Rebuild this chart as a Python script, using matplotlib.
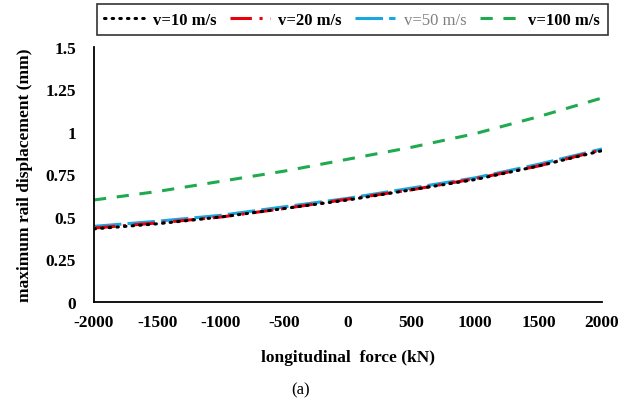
import matplotlib
matplotlib.use("Agg")
import matplotlib.pyplot as plt

plt.rcParams['font.family'] = ['Liberation Serif', 'DejaVu Serif']

force = [-2000, -1500, -1000, -500, 0, 500, 1000, 1500, 2000]
v10 = [0.43, 0.46, 0.50, 0.55, 0.60, 0.66, 0.72, 0.80, 0.89]
v20 = [0.435, 0.465, 0.50, 0.55, 0.605, 0.66, 0.725, 0.80, 0.895]
v50 = [0.445, 0.475, 0.51, 0.56, 0.61, 0.67, 0.73, 0.81, 0.90]
v100 = [0.60, 0.65, 0.71, 0.77, 0.84, 0.91, 0.99, 1.09, 1.20]
labels = ['v=10 m/s', 'v=20 m/s', 'v=50 m/s', 'v=100 m/s']
xticks = [-2000, -1500, -1000, -500, 0, 500, 1000, 1500, 2000]
yticks = [0, 0.25, 0.5, 0.75, 1, 1.25, 1.5]
ytick_labels = ['0', '0.25', '0.5', '0.75', '1', '1.25', '1.5']

fig = plt.figure(figsize=(6.2, 4.1), dpi=100)
ax = fig.add_axes([0.1516, 0.261, 0.8194, 0.622])

lw = 2.2
h10, = ax.plot(force, v10, color='black', lw=lw, linestyle=(0, (0.5, 2.0)), dash_capstyle='round', zorder=4)
h20, = ax.plot(force, v20, color='#e8000b', lw=lw, linestyle=(0, (7, 2.5, 1, 2.5)), zorder=3)
h50, = ax.plot(force, v50, color='#1aa7e0', lw=lw, linestyle=(0, (9, 2)), zorder=2)
h100, = ax.plot(force, v100, color='#1faa4f', lw=lw, linestyle=(0, (4, 3.5)), zorder=2)

ax.set_xlim(-2000, 2000)
ax.set_ylim(0, 1.5)
ax.set_xticks(xticks)
ax.set_xticklabels([str(t) for t in xticks], fontsize=12.5, fontweight='bold')
ax.set_yticks(yticks)
ax.set_yticklabels(ytick_labels, fontsize=12.5, fontweight='bold')
ax.tick_params(axis='x', length=0, pad=9)
ax.tick_params(axis='y', length=0, pad=13)
for s in ['top', 'right']:
    ax.spines[s].set_visible(False)
for s in ['left', 'bottom']:
    ax.spines[s].set_linewidth(1.3)
    ax.spines[s].set_color('black')

ax.set_xlabel('longitudinal  force (kN)', fontsize=12.5, fontweight='bold', labelpad=13)
ax.set_ylabel('maximum rail displacement (mm)', fontsize=12.5, fontweight='bold', labelpad=9)

fig.text(0.484, 0.048, '(a)', fontsize=12, ha='center', va='center')

leg = fig.legend([h10, h20, h50, h100], labels, loc='upper left',
                 bbox_to_anchor=(0.156, 0.903, 0.824, 0.084), mode='expand',
                 ncol=4, frameon=True, fancybox=False, handlelength=2.4,
                 handletextpad=0.5, columnspacing=0.6, borderaxespad=0,
                 borderpad=0.45,
                 prop={'weight': 'bold', 'size': 12})
leg.get_frame().set_edgecolor('black')
leg.get_frame().set_linewidth(1.2)
leg.get_texts()[2].set_color('#808080')
leg.get_texts()[2].set_fontweight('normal')

fig.savefig('out.png', dpi=100)
